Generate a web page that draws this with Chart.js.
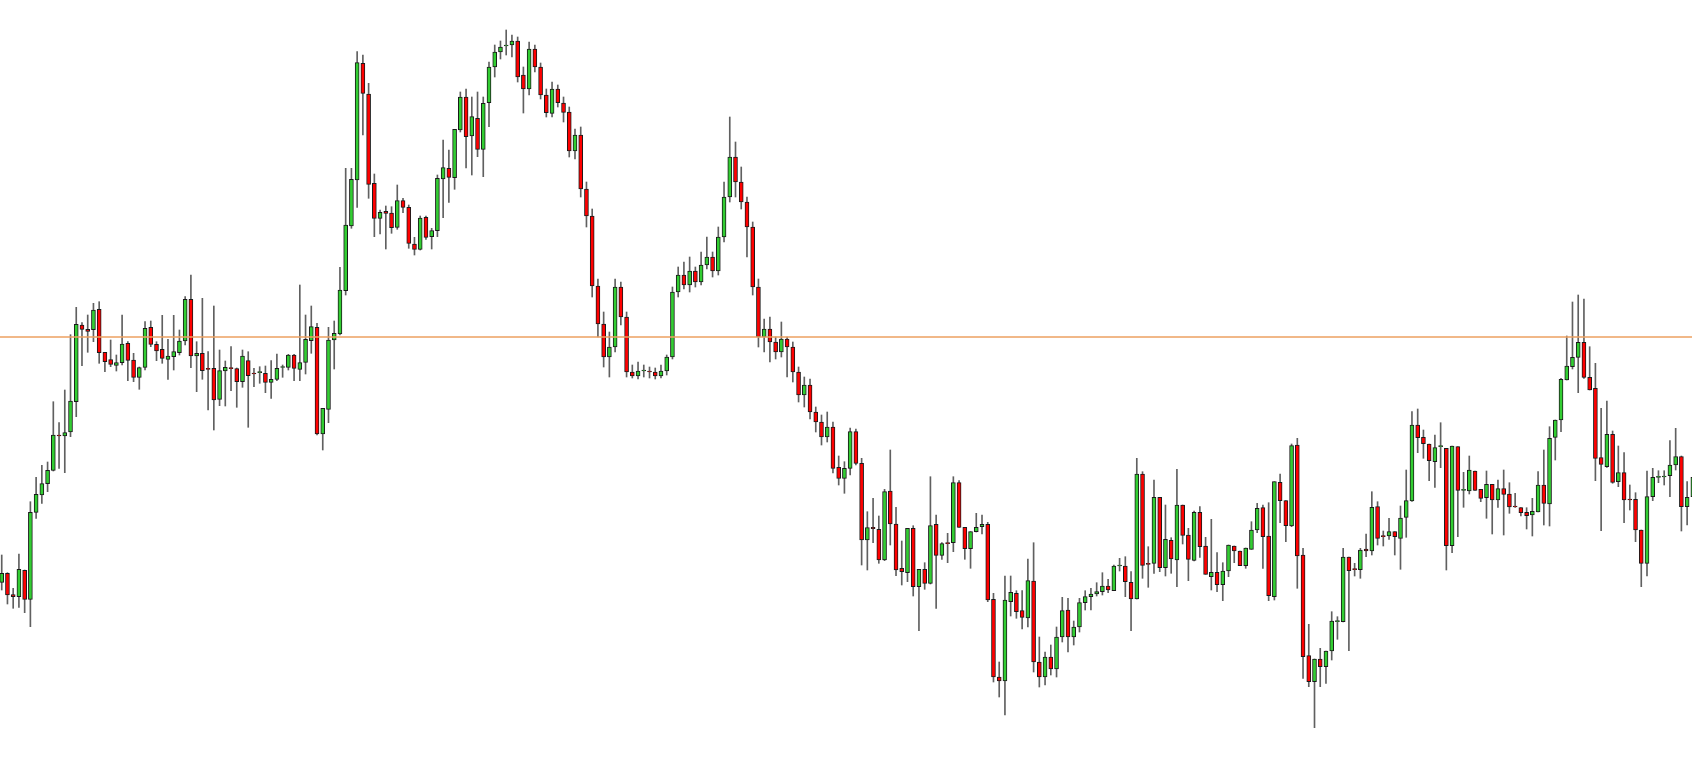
<!DOCTYPE html>
<html>
<head>
<meta charset="utf-8">
<script src="https://cdn.jsdelivr.net/npm/chart.js@4.4.1/dist/chart.umd.min.js"></script>
<style>
    html, body { margin: 0; padding: 0; background: #ffffff; }
    #wrap { width: 1692px; height: 757px; }
</style>
</head>
<body>
<div id="wrap"><canvas id="candleChart"></canvas></div>
<script>
// OHLC values, one entry per candle
const opens = [174.7,183.7,162.3,160.3,186.7,157.7,244.7,262,273.3,286.7,321.7,321,325,355.3,432,427.7,427.3,447.7,404.7,397.3,
    391.7,394.3,413.7,397,379.7,389.7,429.7,412.7,407.7,397.7,400.3,404.3,416,457.7,401,403.7,388,388.7,357.7,386,
    388.7,388.3,375.3,396.3,383.3,384.3,383.7,374.7,377.7,389.5,389.7,402,387.7,394.7,416.3,429.7,323,347.7,417,423,
    466.3,531,577,693.7,663,573.7,538.7,545.7,544,529.7,556.3,549.7,513,507.7,539.7,520.3,526.3,578,588.7,579.3,
    627,660,621,638.7,607.7,654.3,690,705,711,712,716,682,668,708,690,662,643.7,668,654,645,
    606,622,568,541,471,433,400,410,470,440,385,381,386,385.5,385,381,386,400,465,482,
    472,486,475,492,500,486,520,560,600,575,555,530,470,420,428,415,405,418,410,385,
    362,372,345,335,320,330,289.7,278.7,288.7,325.3,293.7,217,229.7,227.7,197,266,233,188.7,184.3,228.7,
    170.3,187.7,173.7,232.7,201.7,213.7,214.3,274.3,229.7,208.3,225.3,230.3,232.7,157.7,80,76,155.3,163.7,146.3,139,
    176,95,80,100,88,120,147,120,130,154.3,160.3,163,165.3,171,166.3,191,191,174.7,158,283,
    193,193.7,259.7,189.3,216.7,197,252,222,196.7,244.7,211,180.3,184.7,172.3,186,211,206,191.3,207.7,227,
    249.3,221,160.3,274.7,256.3,231,312,202,101.3,75.3,98,90.3,106,135.3,135.3,200,187.7,187.3,208,206,
    250.3,220.7,221,225.3,218.7,239.7,256,332,319.7,313,295.3,310.3,308.7,211.3,310.3,266.7,266,286,267.7,259.3,
    272.7,257,268.3,263,250.3,249.3,244.7,242,245,272,253,319.7,337,377,390.3,399.7,414.7,379.7,368.7,299.3,
    290.3,322.7,275.3,284.3,257.3,257.7,227,193.7,260.3,279.7,280,281.3,292,300.3,250.3,260.3];
const highs = [202,184.3,168.7,203,187,255.3,279.7,291.7,295,355.3,334.3,367,422.3,449.7,434.3,442,453.7,455.3,404.7,417,
    402,442,415.3,403.7,390,435.3,436,415.3,441.7,417.7,441.7,427,460.3,482,415.3,458.7,405.3,451,407,396,
    410.3,389,407,405.3,388.7,390.3,391,396.3,403,392,402.7,402.7,472,442,451,433.7,348.7,429.7,436,489.7,
    588.7,588.7,705.3,702,673.7,583,547,551,550.3,572,558.7,552,519.7,541,541,528.7,582,617,607,627.7,
    665,668,660,665,660,695,712,716,727,722,720,690,715,712,694,668,675,672,660,650,
    628,630,575,548,478,445,425,478,475,445,392,395,392,390,389,392,402,470,490,495,
    500,490,505,520,505,530,575,640,615,590,560,535,478,438,440,420,435,420,415,390,
    380,378,350,342,345,335,301,295.3,329,328,298.7,245.3,258.7,241,267.7,307,249.7,216,228.7,231.3,
    187.7,194.3,280.3,242,214.3,223.7,280.3,276.3,229.7,225.3,243.7,242,234.7,163.7,95,181,181,166.3,166.3,198,
    214.3,120,105,112,130,159.7,158.7,136,158.7,166.3,168.7,174.3,184.3,177.7,192,198.7,200.3,185.3,298.7,285.3,
    210.3,277,259.7,252,219.3,287.7,252,228.7,246,250.3,219.7,237.7,204.3,194.3,212,211,206,209,235.3,253.7,
    252,254.3,275.3,283,256.3,313,318.7,208.7,132.7,98,108.7,106,145.3,140.3,208.7,200,193.7,208.7,223,265.3,
    255.3,226,238.7,225.3,251,287,345.3,348,327,313,322,334.3,308.7,311,310.3,284.7,301,286,267.7,286,
    272.7,277,287,274.3,263.7,249.3,249.3,258.7,285.3,307,330.3,337,378.7,421,455,462,458,410.3,393.7,348.7,
    356,326,311,304.3,272,264.3,227,286,288.7,286.3,286.3,316.3,328.7,301,275.3,290];
const lows = [167,153,148.7,149.7,144.3,130.3,238.7,253.7,265.3,286,288.7,284.3,320.3,340.3,391.3,404.7,415.3,393.7,385.3,390.3,
    386,392,376.3,375.3,367.7,387,410.3,396.3,393.7,377.7,387,402,412,389.3,365.3,377.7,347,327,351.3,351,
    366.3,349.7,369.7,329.7,370.3,373.7,364.3,358.7,376.3,379.7,387,376.3,376.3,383,403.7,322,307,334.3,388,422,
    462,528.7,549.7,622,558.7,520.3,523,508,523.7,527.7,544.3,508.7,502,507,517.7,508,520.3,539.3,554.7,567.7,
    625,589,582,600.3,580.3,630.3,680,698,702,700,675,644,662,685,658,640,640,650,635,600,
    598,560,530,460,420,390,380,405,432,380,379,378,380,379,378,379,382,398,460,468,
    465,470,472,488,480,482,515,555,560,548,500,462,410,405,395,398,400,380,375,355,
    350,338,325,312,315,284,272,263.7,282,292,192,187,214.3,193.7,196.3,212,181.3,172,175.3,161,
    126.3,167.7,173,148.7,197.7,194.3,205.3,229.7,197.7,188.7,225,223,155.3,75,60,42,141,138.7,128,130,
    85,70,72,82,80,115,105,112,125,147,147,161,162,164.3,166.3,186,160.3,126.3,158,178.7,
    169.7,183.7,185.3,181,183.7,170.3,213,176.3,196,199.7,182.7,167,165.3,156.3,180.3,194.3,191.3,188.7,207.7,224.3,
    188.7,156.3,157,234.3,215.3,230.3,168.7,78.7,70.3,29.3,70.3,73.7,97,117.7,135,106.3,181,178.7,200.3,202,
    212,211,217.7,202,187.7,219.7,255.7,304.3,298.7,276.3,269.7,289.3,187,204.3,220.3,249.7,263,266.7,255.3,238.7,
    223,249.7,222,243.7,249.7,241,228,221,245,232,231,297,325.3,377,388,364.3,378.7,367,276.3,226.3,
    289.7,273.7,270.3,234.3,247,215.3,170.3,181,256.3,274.3,272,260.3,287,226,232,255];
const closes = [183.7,162,160.3,187.7,157.7,244.7,262.7,273.3,286.7,322,321,324.3,356,432.7,427.7,425.7,447,404.3,395.3,392.7,
    394.3,413,396.7,379.7,389.3,428.7,412.7,406,398.7,401,405.3,416,457.7,401,403.7,386.3,387.7,357,386.3,389.7,
    388.3,375.3,401,381.3,383,384.7,374.7,377.7,388.7,389.8,402,388.7,394.3,417.7,430.3,323,348.7,417,423.7,467,
    532,577.7,694.3,663.7,572.7,538.7,544.7,543.7,529.3,556.3,549.7,513.7,507.7,539,519.7,526.3,578.7,589.3,579.7,627.7,
    660,620.3,640.3,607.7,653.7,690,705,710,712,716,680,668,708,690,662,644.3,668,654.3,644.7,606,
    622,568,541,471,433,400,410,470,440,385,381,386,386.5,385,381,386,400,465,482,472,
    486,475,492,500,486,520,560,600,575,555,530,470,420,428,415,405,418,410,385,362,
    372,345,335,320,330,288.7,278.7,288.7,325.3,293.7,217,229.3,228.3,197,265.3,233,187,185.3,228.7,170.3,
    187.7,173.7,231.3,201.7,213.3,213.3,274.3,229.7,208.3,225.3,229.7,232.7,157,80,76,157,164.7,145.3,139.7,176.3,
    95,80,100,88,120,146.3,120,130,154.3,160.3,163,165.3,171,167,191,191.3,175.3,158,283,191.7,
    192.7,259.7,189.3,217.7,198,252,221.7,197.7,244.7,210.3,182.7,184.7,172.3,186,212,206,191.3,209,227,248.7,
    220.3,161.3,275.3,256.3,231.3,311.3,201,100.3,75.3,98,90.3,106,136,135.7,200,186.3,187.3,207,206,249.7,
    218.7,220.3,225.3,220.3,239,256.3,332,319.3,313.3,296.3,309.3,310.3,211.3,311,266.7,266.7,287,266.7,258.7,272.7,
    257,268.3,262.7,250,250,244.3,241.3,245.7,272,253.7,318.7,337,377.7,391,399.7,414.7,379.7,367,298.7,292.7,
    322.7,274.7,284.3,257,257,227,193.7,260.3,279.7,280,280.3,292,300.3,250.3,259.7,279.7];
const levelPrice = 420;

const upColor = '#32cd32';
const downColor = '#ff0000';

function initializeChart() {
    const ctx = document.getElementById('candleChart').getContext('2d');
    const idx = opens.map((_, i) => i);
    new Chart(ctx, {
        type: 'bar',
        data: {
            datasets: [{
                // candle bodies
                data: idx.map(i => ({ x: i, y: [opens[i], closes[i]] })),
                backgroundColor: idx.map(i => closes[i] >= opens[i] ? upColor : downColor),
                borderColor: '#1a1a1a',
                borderWidth: 1,
                borderSkipped: false,
                barThickness: 4,
                minBarLength: 1,
                grouped: false,
                order: 1
            }, {
                // wicks
                data: idx.map(i => ({ x: i, y: [lows[i], highs[i]] })),
                backgroundColor: '#606060',
                borderWidth: 0,
                barThickness: 1,
                grouped: false,
                order: 2
            }, {
                type: 'line',
                data: [{ x: -1, y: levelPrice }, { x: opens.length + 1, y: levelPrice }],
                borderColor: '#eca160',
                borderWidth: 1.6,
                pointRadius: 0,
                order: 0
            }]
        },
        options: {
            responsive: true,
            maintainAspectRatio: false,
            animation: false,
            layout: { padding: 0 },
            plugins: {
                legend: { display: false },
                tooltip: { enabled: false }
            },
            scales: {
                x: { type: 'linear', min: -0.3, max: 294.85, offset: false, display: false, grid: { offset: false } },
                y: { min: 0, max: 757, display: false }
            }
        }
    });
}

initializeChart();
</script>
</body>
</html>
